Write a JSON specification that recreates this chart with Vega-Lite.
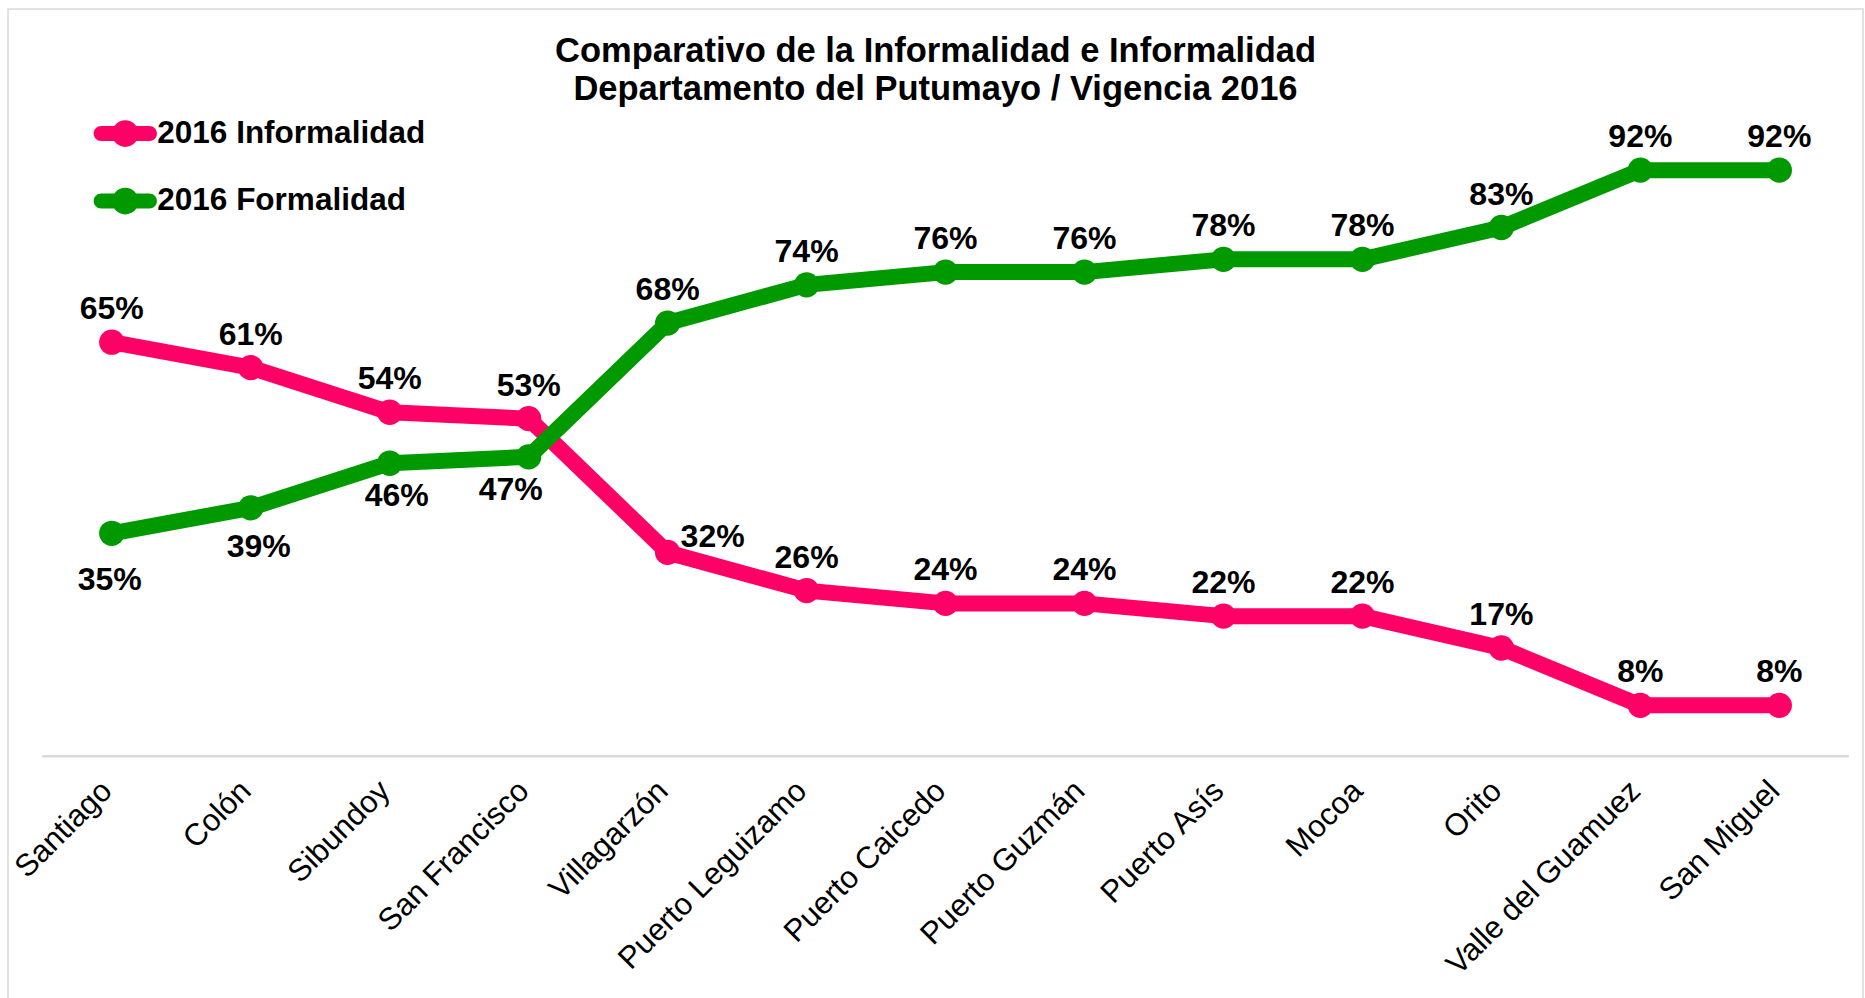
{
  "$schema": "https://vega.github.io/schema/vega-lite/v6.json",
  "width": 1855,
  "height": 1000,
  "autosize": {"type": "none"},
  "padding": {"left": 8, "top": 9, "right": 2, "bottom": -11},
  "background": "white",
  "title": {
    "text": ["Comparativo de la Informalidad e Informalidad", "Departamento del Putumayo / Vigencia 2016"],
    "anchor": "middle",
    "frame": "group",
    "font": "Liberation Sans",
    "fontSize": 34.5,
    "fontWeight": "bold",
    "color": "#000000",
    "lineHeight": 38,
    "baseline": "alphabetic",
    "offset": -125
  },
  "config": {
    "view": {"stroke": "#d9d9d9", "strokeWidth": 1.5}
  },
  "data": {
    "values": [
      {"municipio": "Santiago", "serie": "2016 Informalidad", "valor": 0.65},
      {"municipio": "Colón", "serie": "2016 Informalidad", "valor": 0.61},
      {"municipio": "Sibundoy", "serie": "2016 Informalidad", "valor": 0.54},
      {"municipio": "San Francisco", "serie": "2016 Informalidad", "valor": 0.53},
      {"municipio": "Villagarzón", "serie": "2016 Informalidad", "valor": 0.32},
      {"municipio": "Puerto Leguizamo", "serie": "2016 Informalidad", "valor": 0.26},
      {"municipio": "Puerto Caicedo", "serie": "2016 Informalidad", "valor": 0.24},
      {"municipio": "Puerto Guzmán", "serie": "2016 Informalidad", "valor": 0.24},
      {"municipio": "Puerto Asís", "serie": "2016 Informalidad", "valor": 0.22},
      {"municipio": "Mocoa", "serie": "2016 Informalidad", "valor": 0.22},
      {"municipio": "Orito", "serie": "2016 Informalidad", "valor": 0.17},
      {"municipio": "Valle del Guamuez", "serie": "2016 Informalidad", "valor": 0.08},
      {"municipio": "San Miguel", "serie": "2016 Informalidad", "valor": 0.08},
      {"municipio": "Santiago", "serie": "2016 Formalidad", "valor": 0.35},
      {"municipio": "Colón", "serie": "2016 Formalidad", "valor": 0.39},
      {"municipio": "Sibundoy", "serie": "2016 Formalidad", "valor": 0.46},
      {"municipio": "San Francisco", "serie": "2016 Formalidad", "valor": 0.47},
      {"municipio": "Villagarzón", "serie": "2016 Formalidad", "valor": 0.68},
      {"municipio": "Puerto Leguizamo", "serie": "2016 Formalidad", "valor": 0.74},
      {"municipio": "Puerto Caicedo", "serie": "2016 Formalidad", "valor": 0.76},
      {"municipio": "Puerto Guzmán", "serie": "2016 Formalidad", "valor": 0.76},
      {"municipio": "Puerto Asís", "serie": "2016 Formalidad", "valor": 0.78},
      {"municipio": "Mocoa", "serie": "2016 Formalidad", "valor": 0.78},
      {"municipio": "Orito", "serie": "2016 Formalidad", "valor": 0.83},
      {"municipio": "Valle del Guamuez", "serie": "2016 Formalidad", "valor": 0.92},
      {"municipio": "San Miguel", "serie": "2016 Formalidad", "valor": 0.92}
    ]
  },
  "encoding": {
    "x": {
      "field": "municipio",
      "type": "nominal",
      "scale": {
        "type": "band",
        "domain": ["Santiago", "Colón", "Sibundoy", "San Francisco", "Villagarzón", "Puerto Leguizamo", "Puerto Caicedo", "Puerto Guzmán", "Puerto Asís", "Mocoa", "Orito", "Valle del Guamuez", "San Miguel"],
        "paddingInner": 0,
        "paddingOuter": 0.1745,
        "align": 0.707
      },
      "axis": {
        "title": null,
        "orient": "bottom",
        "offset": -252.7,
        "domain": false,
        "ticks": false,
        "grid": false,
        "labelAngle": -45,
        "labelAlign": "right",
        "labelBaseline": "top",
        "labelPadding": 19,
        "labelOffset": -15,
        "labelLimit": 0,
        "labelFont": "Liberation Sans",
        "labelFontSize": 31,
        "labelColor": "#000000",
        "labelOverlap": false,
        "labelBound": false,
        "labelFlush": false
      }
    },
    "y": {
      "field": "valor",
      "type": "quantitative",
      "scale": {"domain": [-0.39664, 1.17297], "nice": false, "zero": false},
      "axis": null
    },
    "color": {
      "field": "serie",
      "type": "nominal",
      "scale": {"domain": ["2016 Informalidad", "2016 Formalidad"], "range": ["#ff0066", "#009900"]},
      "legend": {
        "orient": "none",
        "legendX": 85.3,
        "legendY": 92.6,
        "padding": 0,
        "title": null,
        "symbolType": "M -0.763 -0.237 H 0.763 A 0.237 0.237 0 0 1 0.763 0.237 H -0.763 A 0.237 0.237 0 0 1 -0.763 -0.237 Z M -0.422 0 A 0.422 0.422 0 1 1 0.422 0 A 0.422 0.422 0 1 1 -0.422 0 Z",
        "symbolSize": 4000,
        "symbolStrokeWidth": 0,
        "symbolOpacity": 1,
        "labelFont": "Liberation Sans",
        "labelFontSize": 31.5,
        "labelFontWeight": "bold",
        "labelColor": "#000000",
        "labelOffset": 0,
        "labelLimit": 0,
        "rowPadding": 19.5
      }
    }
  },
  "layer": [
    {
      "mark": {"type": "tick", "orient": "horizontal", "size": 139, "thickness": 2, "color": "#d9d9d9", "opacity": 1},
      "encoding": {
        "y": {"datum": 0, "type": "quantitative"},
        "color": {"value": "#d9d9d9"}
      }
    },
    {
      "mark": {"type": "line", "strokeWidth": 16, "strokeCap": "round", "strokeJoin": "round"}
    },
    {
      "mark": {"type": "point", "shape": "circle", "filled": true, "opacity": 1, "size": 640}
    },
    {
      "transform": [{"filter": "!(datum.serie === '2016 Formalidad' && datum.valor < 0.5) && !(datum.serie === '2016 Informalidad' && datum.municipio === 'Villagarzón')"}],
      "mark": {"type": "text", "font": "Liberation Sans", "fontSize": 32, "fontWeight": "bold", "baseline": "middle", "align": "center", "dy": -33},
      "encoding": {"text": {"field": "valor", "type": "quantitative", "format": ".0%"}, "color": {"value": "#000000"}}
    },
    {
      "transform": [{"filter": "datum.serie === '2016 Formalidad' && datum.municipio === 'Santiago'"}],
      "mark": {"type": "text", "font": "Liberation Sans", "fontSize": 32, "fontWeight": "bold", "baseline": "middle", "align": "center", "dx": -2, "dy": 47},
      "encoding": {"text": {"field": "valor", "type": "quantitative", "format": ".0%"}, "color": {"value": "#000000"}}
    },
    {
      "transform": [{"filter": "datum.serie === '2016 Formalidad' && datum.municipio === 'Colón'"}],
      "mark": {"type": "text", "font": "Liberation Sans", "fontSize": 32, "fontWeight": "bold", "baseline": "middle", "align": "center", "dx": 8, "dy": 39},
      "encoding": {"text": {"field": "valor", "type": "quantitative", "format": ".0%"}, "color": {"value": "#000000"}}
    },
    {
      "transform": [{"filter": "datum.serie === '2016 Formalidad' && datum.municipio === 'Sibundoy'"}],
      "mark": {"type": "text", "font": "Liberation Sans", "fontSize": 32, "fontWeight": "bold", "baseline": "middle", "align": "center", "dx": 7, "dy": 33},
      "encoding": {"text": {"field": "valor", "type": "quantitative", "format": ".0%"}, "color": {"value": "#000000"}}
    },
    {
      "transform": [{"filter": "datum.serie === '2016 Formalidad' && datum.municipio === 'San Francisco'"}],
      "mark": {"type": "text", "font": "Liberation Sans", "fontSize": 32, "fontWeight": "bold", "baseline": "middle", "align": "center", "dx": -18, "dy": 33},
      "encoding": {"text": {"field": "valor", "type": "quantitative", "format": ".0%"}, "color": {"value": "#000000"}}
    },
    {
      "transform": [{"filter": "datum.serie === '2016 Informalidad' && datum.municipio === 'Villagarzón'"}],
      "mark": {"type": "text", "font": "Liberation Sans", "fontSize": 32, "fontWeight": "bold", "baseline": "middle", "align": "center", "dx": 45, "dy": -15},
      "encoding": {"text": {"field": "valor", "type": "quantitative", "format": ".0%"}, "color": {"value": "#000000"}}
    }
  ]
}
